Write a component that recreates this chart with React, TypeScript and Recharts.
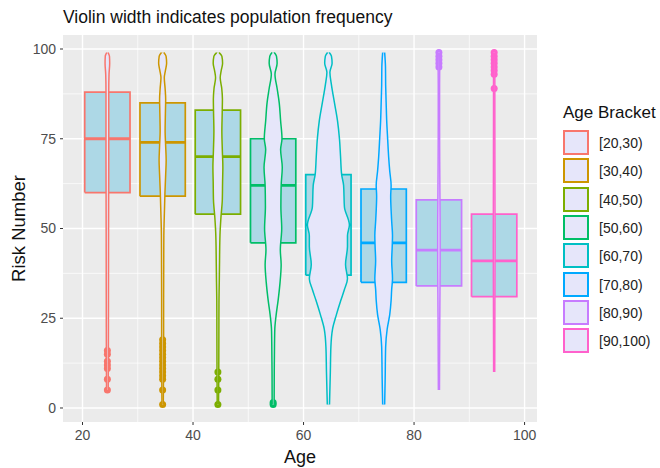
import { ComposedChart, Area, Line, Scatter, XAxis, YAxis, CartesianGrid } from "recharts";

const brackets = ["[20,30)", "[30,40)", "[40,50)", "[50,60)", "[60,70)", "[70,80)", "[80,90)", "[90,100)"];
const bracketColors = ["#F8766D", "#CD9600", "#7CAE00", "#00BE67", "#00BFC4", "#00A9FF", "#C77CFF", "#FF61CC"];
const ageCenters = [24.5, 34.5, 44.5, 54.5, 64.5, 74.5, 84.5, 94.5];

// box stats (Risk Number)
const boxLower = [60, 59, 54, 46, 37, 35, 34, 31];
const boxMedian = [75, 74, 70, 62, 51, 46, 44, 41];
const boxUpper = [88, 85, 83, 75, 65, 61, 58, 54];
const whiskerLow = [18, 20, 11, 3, 1, 1, 5, 10];
const whiskerHigh = [99, 99, 99, 99, 99, 99, 94, 88];
const outliers = [
  [16, 15, 13, 12, 11, 8, 5],
  [19, 18, 17, 16, 15, 14, 13, 12, 11, 10, 9, 8, 5, 1],
  [10, 8, 5, 1],
  [1, 1.5],
  [],
  [],
  [95, 96, 97, 98, 99],
  [89, 93, 94, 95, 96, 97, 98, 99],
];

// violin profiles: [risk, half width in years]
const v2030 = [[5, 0.15], [15, 0.18], [30, 0.2], [50, 0.22], [70, 0.25], [88, 0.25], [93, 0.3], [96, 0.42], [98, 0.38], [99, 0.12]];
const v3040 = [[1, 0.12], [10, 0.16], [20, 0.18], [30, 0.18], [40, 0.2], [48, 0.22], [55, 0.33], [60, 0.42], [65, 0.55], [69, 0.64], [73, 0.55], [77, 0.45], [82, 0.5], [86, 0.55], [89, 0.45], [92, 0.3], [94, 0.5], [96, 0.72], [98, 0.62], [99, 0.2]];
const v4050 = [[1, 0.12], [10, 0.16], [20, 0.18], [30, 0.2], [35, 0.25], [41, 0.3], [45, 0.33], [49, 0.4], [53, 0.55], [58, 0.8], [63, 0.85], [67, 0.9], [72, 0.8], [77, 0.72], [82, 0.78], [86, 0.82], [89, 0.7], [92, 0.42], [94, 0.6], [96, 0.85], [98, 0.72], [99, 0.22]];
const v5060 = [[1, 0.18], [10, 0.2], [18, 0.25], [22, 0.3], [26, 0.55], [30, 0.9], [35, 1.25], [40, 1.45], [44, 1.3], [50, 1.55], [56, 1.4], [62, 1.45], [67, 1.65], [72, 1.35], [75, 1.6], [80, 1.35], [85, 1.1], [89, 0.72], [93, 0.33], [96, 0.72], [98, 0.6], [99, 0.2]];
const v6070 = [[1, 0.2], [10, 0.35], [17, 0.45], [22, 0.75], [26, 1.45], [30, 2.25], [33, 2.9], [36, 3.45], [40, 3.1], [45, 3.45], [48, 3.45], [51, 3.8], [56, 2.9], [62, 2.75], [65, 2.4], [70, 2.2], [75, 2.0], [80, 1.65], [85, 1.1], [90, 0.55], [93.5, 0.27], [96, 0.67], [98, 0.55], [99, 0.15]];
const v7080 = [[1, 0.18], [8, 0.27], [17, 0.36], [22, 0.64], [26, 1.1], [30, 1.35], [33, 1.45], [36, 1.6], [41, 1.45], [45, 1.55], [48, 1.6], [52, 1.45], [55, 1.35], [59, 1.27], [62, 1.35], [66, 1.1], [70, 0.9], [75, 0.72], [80, 0.55], [85, 0.45], [90, 0.36], [95, 0.33], [99, 0.18]];
const v8090 = [[5, 0.1], [20, 0.14], [30, 0.18], [40, 0.22], [50, 0.22], [60, 0.18], [70, 0.14], [80, 0.12], [90, 0.12], [95, 0.14], [99, 0.12]];
const v90100 = [[10, 0.1], [30, 0.13], [45, 0.16], [60, 0.14], [80, 0.12], [95, 0.12], [99, 0.1]];
const violins = [v2030, v3040, v4050, v5060, v6070, v7080, v8090, v90100];

const xTicks = [20, 40, 60, 80, 100];
const xMinor = [30, 50, 70, 90];
const yTicks = [0, 25, 50, 75, 100];
const yMinor = [12.5, 37.5, 62.5, 87.5];

const BOX_HALF = 4.1;
const FONT = "'Liberation Sans', Arial, Helvetica, sans-serif";

export default function App() {
  return (
    <div style={{ position: "absolute", left: 0, top: 0, width: 660, height: 468, background: "#fff", fontFamily: FONT }}>
      <div style={{ position: "absolute", left: 63, top: 7, fontSize: 17.5, color: "#111", whiteSpace: "nowrap" }}>
        Violin width indicates population frequency
      </div>
      <ComposedChart
        layout="vertical"
        width={660}
        height={468}
        margin={{ top: 35, right: 123, bottom: 4, left: 10 }}
        style={{ fontFamily: FONT }}
      >
        <CartesianGrid fill="#EBEBEB" stroke="#fff" strokeWidth={0.7} horizontalValues={yMinor} verticalValues={xMinor} />
        <CartesianGrid stroke="#fff" strokeWidth={1.4} horizontalValues={yTicks} verticalValues={xTicks} />
        <XAxis
          type="number"
          domain={[16.47, 102.25]}
          allowDataOverflow
          ticks={xTicks}
          height={42}
          axisLine={false}
          tickSize={3}
          tickMargin={5}
          tickLine={{ stroke: "#333" }}
          tick={{ fill: "#4D4D4D", fontSize: 14 }}
          label={{ value: "Age", position: "insideBottom", offset: 1, style: { fill: "#111", fontSize: 18 } }}
        />
        <YAxis
          type="number"
          dataKey="y"
          domain={[-3.9, 103.9]}
          reversed
          allowDataOverflow
          ticks={yTicks}
          width={53}
          axisLine={false}
          tickSize={3}
          tickMargin={4}
          tickLine={{ stroke: "#333" }}
          tick={{ fill: "#4D4D4D", fontSize: 14 }}
          label={{ value: "Risk Number", angle: -90, position: "insideLeft", offset: 8, style: { textAnchor: "middle", fill: "#111", fontSize: 18.5 } }}
        />

        {ageCenters.map((c, i) => (
          <Area
            key={"bf" + i}
            data={[
              { y: boxLower[i], r: [c - BOX_HALF, c + BOX_HALF] },
              { y: boxUpper[i], r: [c - BOX_HALF, c + BOX_HALF] },
            ]}
            dataKey="r"
            type="linear"
            fill="#ADD8E6"
            fillOpacity={1}
            stroke="none"
            isAnimationActive={false}
            zIndex={100}
          />
        ))}
        {ageCenters.map((c, i) => (
          <Line
            key={"wl" + i}
            data={[{ x: c, y: whiskerLow[i] }, { x: c, y: boxLower[i] }]}
            dataKey="x"
            stroke={bracketColors[i]}
            strokeWidth={1.6}
            dot={false}
            activeDot={false}
            isAnimationActive={false}
            zIndex={110}
          />
        ))}
        {ageCenters.map((c, i) => (
          <Line
            key={"wh" + i}
            data={[{ x: c, y: boxUpper[i] }, { x: c, y: whiskerHigh[i] }]}
            dataKey="x"
            stroke={bracketColors[i]}
            strokeWidth={1.6}
            dot={false}
            activeDot={false}
            isAnimationActive={false}
            zIndex={110}
          />
        ))}
        {ageCenters.map((c, i) => (
          <Line
            key={"bo" + i}
            data={[
              { x: c - BOX_HALF, y: boxLower[i] },
              { x: c + BOX_HALF, y: boxLower[i] },
              { x: c + BOX_HALF, y: boxUpper[i] },
              { x: c - BOX_HALF, y: boxUpper[i] },
              { x: c - BOX_HALF, y: boxLower[i] },
            ]}
            dataKey="x"
            type="linear"
            stroke={bracketColors[i]}
            strokeWidth={1.7}
            dot={false}
            activeDot={false}
            isAnimationActive={false}
            zIndex={110}
          />
        ))}
        {ageCenters.map((c, i) => (
          <Line
            key={"md" + i}
            data={[{ x: c - BOX_HALF, y: boxMedian[i] }, { x: c + BOX_HALF, y: boxMedian[i] }]}
            dataKey="x"
            stroke={bracketColors[i]}
            strokeWidth={2.8}
            dot={false}
            activeDot={false}
            isAnimationActive={false}
            zIndex={110}
          />
        ))}
        {ageCenters.map((c, i) => (
          <Scatter
            key={"ol" + i}
            data={outliers[i].map((v) => ({ x: c, y: v }))}
            dataKey="x"
            fill={bracketColors[i]}
            isAnimationActive={false}
            zIndex={120}
            shape={(p: any) => <circle cx={p.cx} cy={p.cy} r={3.5} fill={bracketColors[i]} />}
          />
        ))}
        {ageCenters.map((c, i) => (
          <Area
            key={"vi" + i}
            data={violins[i].map(([y, w]) => ({ y, r: [c - w, c + w] }))}
            dataKey="r"
            type="monotone"
            fill="#E6E6FA"
            fillOpacity={1}
            stroke={bracketColors[i]}
            strokeWidth={1.5}
            isAnimationActive={false}
            zIndex={130}
          />
        ))}
      </ComposedChart>

      <div style={{ position: "absolute", left: 563, top: 103, fontSize: 17, color: "#111", whiteSpace: "nowrap", lineHeight: "20px" }}>
        Age Bracket
      </div>
      {brackets.map((b, i) => (
        <div key={b} style={{ position: "absolute", left: 563, top: 130 + Math.round(28.3 * i), height: 25, display: "flex", alignItems: "center" }}>
          <div
            style={{
              width: 26,
              height: 25,
              boxSizing: "border-box",
              border: `2px solid ${bracketColors[i]}`,
              background: "#E6E6FA",
            }}
          />
          <span style={{ marginLeft: 10, fontSize: 14, color: "#222", whiteSpace: "nowrap" }}>{b}</span>
        </div>
      ))}
    </div>
  );
}
